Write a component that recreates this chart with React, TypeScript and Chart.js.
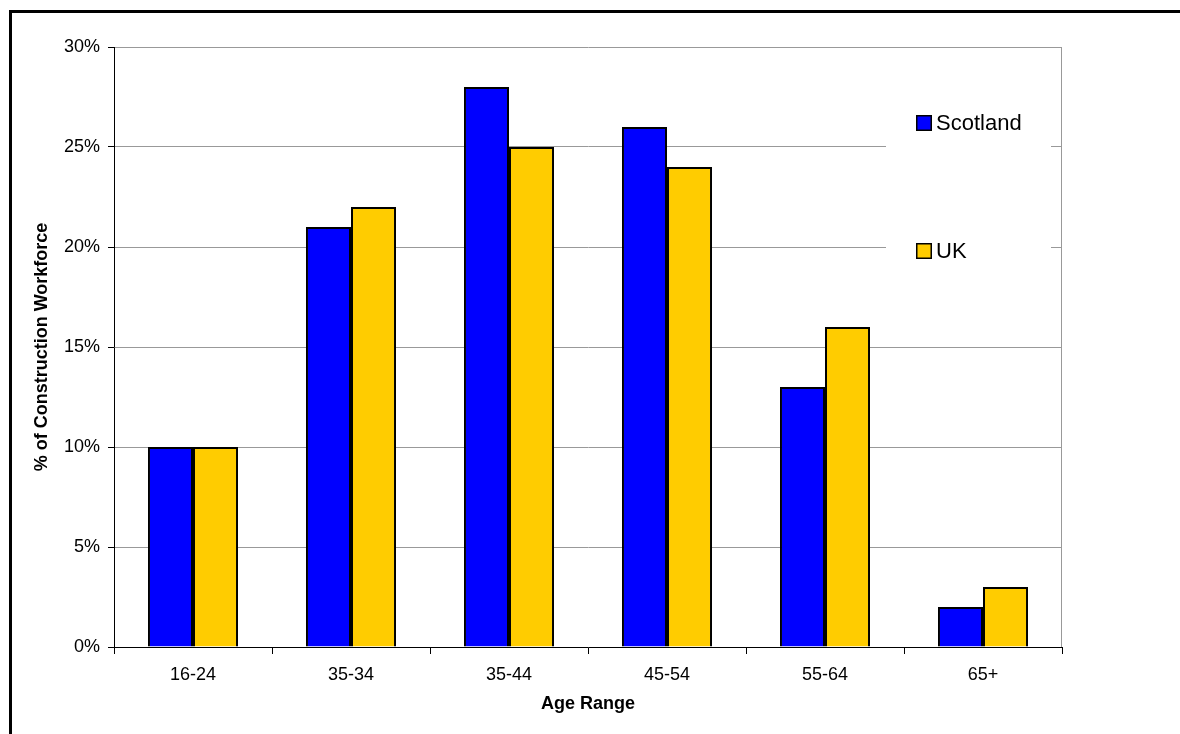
import React, { useEffect, useRef } from "react";
import { Chart, registerables } from "chart.js";

Chart.register(...registerables);

const categories = ["16-24", "35-34", "35-44", "45-54", "55-64", "65+"];
const scotlandValues = [10, 21, 28, 26, 13, 2];
const ukValues = [10, 22, 25, 24, 16, 3];
const seriesLabels = ["Scotland", "UK"];
const seriesColors = ["#0000FF", "#FFCC00"];
const yMin = 0;
const yMax = 30;
const yStep = 5;
const xTitle = "Age Range";
const yTitle = "% of Construction Workforce";

const FONT = "'Liberation Sans', Arial, Helvetica, sans-serif";

const insetLegend = {
  id: "insetLegend",
  beforeDatasetsDraw(chart: any) {
    const { ctx, chartArea } = chart;
    ctx.save();
    ctx.strokeStyle = "#999999";
    ctx.lineWidth = 1;
    ctx.beginPath();
    ctx.moveTo(Math.round(chartArea.right) - 0.5, chartArea.top);
    ctx.lineTo(Math.round(chartArea.right) - 0.5, chartArea.bottom);
    ctx.stroke();
    ctx.restore();
  },
  afterDraw(chart: any) {
    const { ctx, chartArea } = chart;
    const x0 = chartArea.right - 176;
    ctx.save();
    ctx.fillStyle = "#ffffff";
    ctx.fillRect(x0, chartArea.top + 14, 165, 240);
    const rows = [chartArea.top + 76, chartArea.top + 204];
    chart.data.datasets.forEach((ds: any, i: number) => {
      const cy = rows[i];
      const sx = x0 + 30;
      ctx.fillStyle = "#000";
      ctx.fillRect(sx, cy - 8, 16, 16);
      ctx.fillStyle = ds.backgroundColor;
      ctx.fillRect(sx + 1.5, cy - 6.5, 13, 13);
      ctx.fillStyle = "#000";
      ctx.font = `22px ${FONT}`;
      ctx.textBaseline = "middle";
      ctx.textAlign = "left";
      ctx.fillText(ds.label, sx + 20, cy + 1);
    });
    ctx.restore();
  },
};

export default function App() {
  const canvasRef = useRef<HTMLCanvasElement | null>(null);

  useEffect(() => {
    document.body.style.margin = "0";
    const canvas = canvasRef.current;
    if (!canvas) return;
    const chart = new Chart(canvas, {
      type: "bar",
      data: {
        labels: categories,
        datasets: [
          {
            label: seriesLabels[0],
            data: scotlandValues,
            backgroundColor: seriesColors[0],
            borderColor: "#000",
            borderWidth: 2,
            categoryPercentage: 0.57,
            barPercentage: 1.0,
          },
          {
            label: seriesLabels[1],
            data: ukValues,
            backgroundColor: seriesColors[1],
            borderColor: "#000",
            borderWidth: 2,
            categoryPercentage: 0.57,
            barPercentage: 1.0,
          },
        ],
      },
      options: {
        responsive: false,
        animation: false,
        devicePixelRatio: 1,
        layout: { padding: { left: 27, top: 47, right: 118, bottom: 15 } },
        plugins: {
          legend: { display: false },
          tooltip: { enabled: false },
          title: { display: false },
        },
        scales: {
          x: {
            afterFit: (s: any) => {
              s.height = 72;
            },
            grid: {
              offset: true,
              drawOnChartArea: false,
              drawTicks: true,
              tickLength: 7,
              tickColor: "#000",
            },
            border: { color: "#000", width: 1 },
            ticks: {
              color: "#000",
              padding: 10,
              font: { family: FONT, size: 18 },
            },
            title: {
              display: true,
              text: xTitle,
              color: "#000",
              padding: { top: 4, bottom: 4 },
              font: { family: FONT, size: 18, weight: "bold" },
            },
          },
          y: {
            min: yMin,
            max: yMax,
            afterFit: (s: any) => {
              s.width = 87;
            },
            grid: {
              color: "#999999",
              tickColor: "#000",
              tickLength: 6,
              lineWidth: 1,
            },
            border: { color: "#000", width: 1 },
            ticks: {
              stepSize: yStep,
              color: "#000",
              padding: 8,
              font: { family: FONT, size: 18 },
              callback: (v: any) => `${v}%`,
            },
            title: {
              display: true,
              text: yTitle,
              color: "#000",
              padding: { top: 4, bottom: 4 },
              font: { family: FONT, size: 18, weight: "bold" },
            },
          },
        },
      },
      plugins: [insetLegend],
    });
    return () => chart.destroy();
  }, []);

  return (
    <div
      style={{
        position: "fixed",
        left: 0,
        top: 0,
        width: 1180,
        height: 734,
        overflow: "hidden",
        background: "#fff",
      }}
    >
      <canvas
        ref={canvasRef}
        width={1180}
        height={734}
        style={{ position: "absolute", left: 0, top: 0, width: 1180, height: 734 }}
      />
      <div
        style={{
          position: "absolute",
          left: 9,
          top: 10,
          width: 1300,
          height: 900,
          border: "3px solid #000",
          pointerEvents: "none",
        }}
      />
    </div>
  );
}
